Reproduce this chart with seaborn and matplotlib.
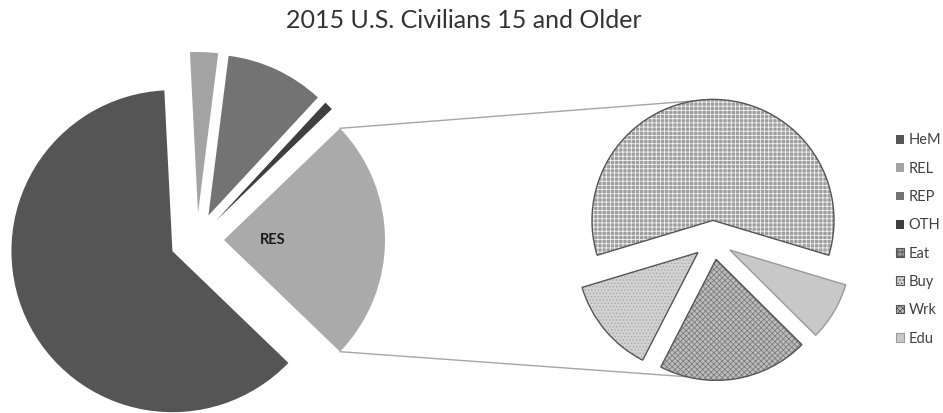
import numpy as np
import matplotlib
matplotlib.use("Agg")
import matplotlib.pyplot as plt
import seaborn as sns
from matplotlib.patches import Patch

# ---- data ----
title = "2015 U.S. Civilians 15 and Older"
main_labels = ["HeM", "REL", "REP", "OTH", "RES"]
main_values = [62.0, 2.8, 9.9, 0.9, 24.4]
sub_labels = ["Eat", "Buy", "Wrk", "Edu"]
sub_values = [59.3, 12.8, 20.1, 7.8]

sns.set_theme(style="white")
plt.rcParams['font.family'] = ['Lato', 'DejaVu Sans']
plt.rcParams['hatch.linewidth'] = 0.6

W, H = 943, 413
fig = plt.figure(figsize=(W / 100, H / 100), dpi=100)
ax = fig.add_axes([0, 0, 1, 1])

# ---- main pie ----
main_colors = ["#555555", "#a3a3a3", "#737373", "#3f3f3f", "#aaaaaa"]
c1 = (197, H - 240)
r1 = 161
gap1 = 27
res_deg = main_values[-1] / sum(main_values) * 360
w1, _ = ax.pie(main_values, colors=main_colors, startangle=-res_deg / 2,
               counterclock=False, explode=[gap1] * len(main_values),
               radius=r1, center=c1, wedgeprops=dict(linewidth=0))

res = w1[-1]
mid = np.deg2rad((res.theta1 + res.theta2) / 2)
ax.text(res.center[0] + 0.30 * r1 * np.cos(mid), res.center[1] + 0.30 * r1 * np.sin(mid),
        "RES", ha="center", va="center", fontsize=10.5, fontweight="bold", color="#1a1a1a")

# ---- sub pie ----
sub_colors = ["#9e9e9e", "#d2d2d2", "#bdbdbd", "#c8c8c8"]
hatch_colors = ["#f2f2f2", "#a8a8a8", "#7c7c7c", "#c8c8c8"]
hatches = ["++++", ".....", "xxxxxx", ""]
sub_edges = ["#555555", "#555555", "#555555", "#9a9a9a"]
c2 = (713, H - 240)
r2 = 121
gap2 = 19.6
eat_deg = sub_values[0] / sum(sub_values) * 360
start2 = 90 - eat_deg / 2
w2, _ = ax.pie(sub_values, colors=sub_colors, startangle=start2, counterclock=True,
               explode=[gap2] * len(sub_values), radius=r2, center=c2,
               wedgeprops=dict(linewidth=0))
for w, h, hc in zip(w2, hatches, hatch_colors):
    w.set_hatch(h)
    w.set_edgecolor(hc)
    w.set_linewidth(0)
w2b, _ = ax.pie(sub_values, colors=["none"] * 4, startangle=start2, counterclock=True,
                explode=[gap2] * len(sub_values), radius=r2, center=c2,
                wedgeprops=dict(linewidth=1.0, fill=False))
for w, ec in zip(w2b, sub_edges):
    w.set_edgecolor(ec)

# ---- connector lines ----
t_up, t_lo = np.deg2rad(res.theta2), np.deg2rad(res.theta1)
p_up = (res.center[0] + r1 * np.cos(t_up), res.center[1] + r1 * np.sin(t_up))
p_lo = (res.center[0] + r1 * np.cos(t_lo), res.center[1] + r1 * np.sin(t_lo))
eat, wrk = w2[0], w2[2]
q_up = (eat.center[0] + r2 * np.cos(np.deg2rad(90)), eat.center[1] + r2 * np.sin(np.deg2rad(90)))
q_lo = (wrk.center[0] + r2 * np.cos(np.deg2rad(256)), wrk.center[1] + r2 * np.sin(np.deg2rad(256)))
ax.plot([p_up[0], q_up[0]], [p_up[1], q_up[1]], color="#a6a6a6", lw=1.0, zorder=0)
ax.plot([p_lo[0], q_lo[0]], [p_lo[1], q_lo[1]], color="#a6a6a6", lw=1.0, zorder=0)

ax.set_xlim(0, W)
ax.set_ylim(0, H)
ax.set_aspect("equal")
ax.axis("off")

# ---- legend ----
handles = [Patch(facecolor=c, edgecolor=c, linewidth=0) for c in main_colors[:4]]
for c, h, hc, ec in zip(sub_colors, hatches, hatch_colors, sub_edges):
    handles.append(Patch(facecolor=c, edgecolor=ec, hatch=h, linewidth=0.8))
fig.legend(handles, main_labels[:4] + sub_labels, loc="center left",
           bbox_to_anchor=(896 / W, 1 - 239.5 / H), frameon=False, fontsize=10.5,
           handlelength=0.55, handleheight=0.55, handletextpad=0.3, labelspacing=0.98,
           borderpad=0, borderaxespad=0, labelcolor="#404040")

fig.text(464 / W, 1 - 20 / H, title, ha="center", va="center", fontsize=18, color="#333333")

fig.savefig("out.png", dpi=100)
